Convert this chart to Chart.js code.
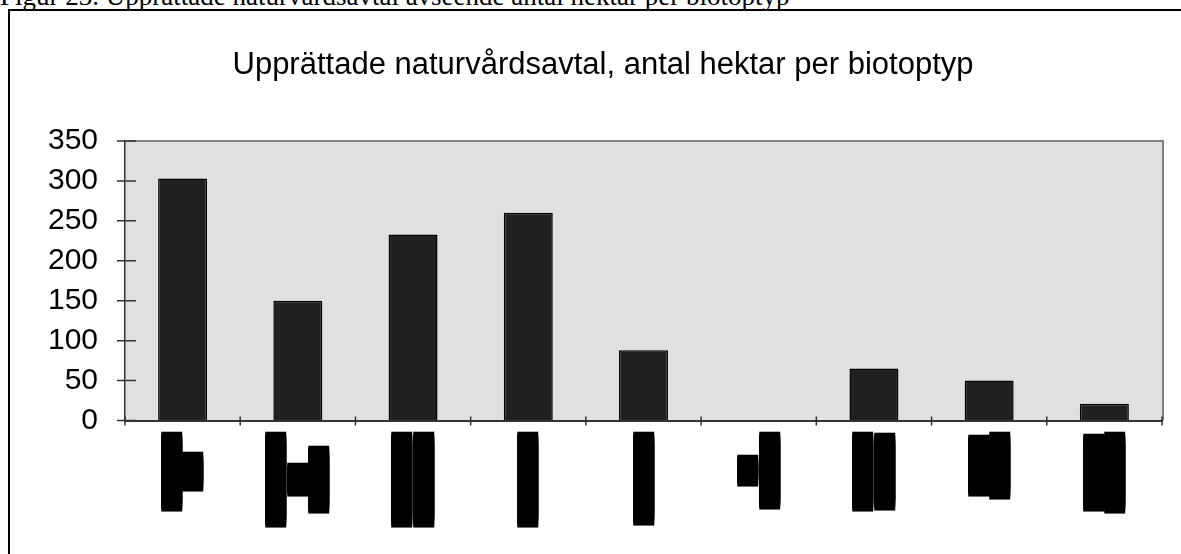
<!DOCTYPE html>
<html>
<head>
<meta charset="utf-8">
<script src="https://cdn.jsdelivr.net/npm/chart.js@4.4.0/dist/chart.umd.min.js"></script>
<style>
  body { margin: 0; width: 1181px; height: 554px; overflow: hidden; background: #fff; position: relative; }
  #caption { position: absolute; left: 0; top: -17px; font: 27px 'Liberation Serif'; line-height: 27px; white-space: nowrap; color: #000; }
  #frame { position: absolute; left: 8px; top: 9px; width: 1400px; height: 800px; border: 2px solid #000; }
  #wrap { position: absolute; left: 0; top: 0; width: 1181px; height: 554px; }
</style>
</head>
<body>
<div id="caption">Figur 23. Upprättade naturvårdsavtal avseende antal hektar per biotoptyp</div>
<div id="frame"></div>
<div id="wrap"><canvas id="myChart"></canvas></div>
<script>
const chartTitle = 'Upprättade naturvårdsavtal, antal hektar per biotoptyp';

// the category names come out as solid blocks in the original (missing font),
// so each text line is a run of block characters
const blk = (n) => '█'.repeat(n);
const categories = [
  [blk(34), blk(14)],
  [blk(42), blk(11), blk(28)],
  [blk(42), blk(42)],
  [blk(42)],
  [blk(41)],
  [blk(10), blk(33)],
  [blk(34), blk(33)],
  [blk(25), blk(28)],
  [blk(33), blk(35)],
];

const hectares = [303, 150, 233, 260, 88, 0, 65, 50, 21];

const yTicks = [0, 50, 100, 150, 200, 250, 300, 350];

// grey plot area, its frame, ticks crossing the axes and the block labels
const plotDecor = {
  id: 'plotDecor',
  beforeDraw(chart) {
    const { ctx, chartArea } = chart;
    ctx.save();
    ctx.fillStyle = '#e0e0e0';
    ctx.fillRect(chartArea.left, chartArea.top, chartArea.right - chartArea.left, chartArea.bottom - chartArea.top);
    ctx.restore();
  },
  afterDatasetsDraw(chart) {
    const { ctx, chartArea, scales } = chart;
    ctx.save();
    ctx.strokeStyle = '#808080';
    ctx.lineWidth = 2;
    ctx.beginPath();
    ctx.moveTo(chartArea.left, chartArea.top);
    ctx.lineTo(chartArea.right + 1, chartArea.top);
    ctx.lineTo(chartArea.right + 1, chartArea.bottom);
    ctx.stroke();

    ctx.strokeStyle = '#333';
    ctx.lineWidth = 1.5;
    ctx.beginPath();
    yTicks.forEach((v) => {
      const y = scales.y.getPixelForValue(v);
      ctx.moveTo(chartArea.left - 8, y);
      ctx.lineTo(chartArea.left + 11, y);
    });
    for (let i = 0; i <= categories.length; i++) {
      const x = scales.x.getPixelForValue(i - 0.5);
      ctx.moveTo(x, chartArea.bottom - 4);
      ctx.lineTo(x, chartArea.bottom + 5);
    }
    ctx.stroke();
    ctx.restore();
  },
  afterDraw(chart) {
    const { ctx, chartArea, scales } = chart;
    const size = 17.6;
    const step = 2;
    ctx.save();
    ctx.font = size + 'px "DejaVu Sans"';
    const adv = ctx.measureText('█').width;
    ctx.letterSpacing = (step - adv) + 'px';
    ctx.fillStyle = '#000';
    ctx.textAlign = 'left';
    ctx.textBaseline = 'alphabetic';
    const top = chartArea.bottom + 11.5;
    categories.forEach((lines, i) => {
      const cx = scales.x.getPixelForValue(i);
      const lens = lines.map((s) => (s.length - 1) * step + adv);
      const mid = top + Math.max(...lens) / 2;
      lines.forEach((s, j) => {
        const lx = cx + (j - (lines.length - 1) / 2) * 21.5;
        ctx.save();
        ctx.translate(lx, mid);
        ctx.rotate(-Math.PI / 2);
        ctx.fillText(s, -lens[j] / 2, 0.346 * size);
        ctx.restore();
      });
    });
    ctx.restore();
  },
};

const data = {
  labels: categories,
  datasets: [
    {
      label: 'Hektar',
      data: hectares,
      backgroundColor: '#202020',
      borderColor: '#000',
      borderWidth: 1.5,
      categoryPercentage: 1,
      barPercentage: 0.425,
    },
  ],
};

const config = {
  type: 'bar',
  data: data,
  options: {
    responsive: true,
    maintainAspectRatio: false,
    animation: false,
    layout: {
      // left padding shifts the centred title to where it sits in the original
      padding: { left: 44, right: 19, top: 0, bottom: 0 },
    },
    plugins: {
      legend: { display: false },
      tooltip: { enabled: false },
      title: {
        display: true,
        text: chartTitle,
        color: '#000',
        font: { family: 'Liberation Sans', size: 31, weight: 'normal' },
        padding: { top: 46.4, bottom: 57.4 },
      },
    },
    scales: {
      x: {
        grid: { display: false },
        border: { display: true, color: '#333', width: 2 },
        ticks: { display: false },
        afterFit: (scale) => {
          scale.height = 133.5;
        },
      },
      y: {
        min: 0,
        max: 350,
        afterBuildTicks: (scale) => {
          scale.ticks = yTicks.map((v) => ({ value: v }));
        },
        grid: { drawOnChartArea: false, drawTicks: true, tickLength: 8, color: 'rgba(0,0,0,0)' },
        border: { display: true, color: '#333', width: 1.5 },
        ticks: {
          color: '#000',
          padding: 19,
          autoSkip: false,
          font: { family: 'Liberation Sans', size: 30 },
        },
        afterFit: (scale) => {
          scale.width = 81;
        },
      },
    },
  },
  plugins: [plotDecor],
};

var ctx = document.getElementById('myChart');
var myChart = new Chart(ctx, config);
</script>
</body>
</html>
